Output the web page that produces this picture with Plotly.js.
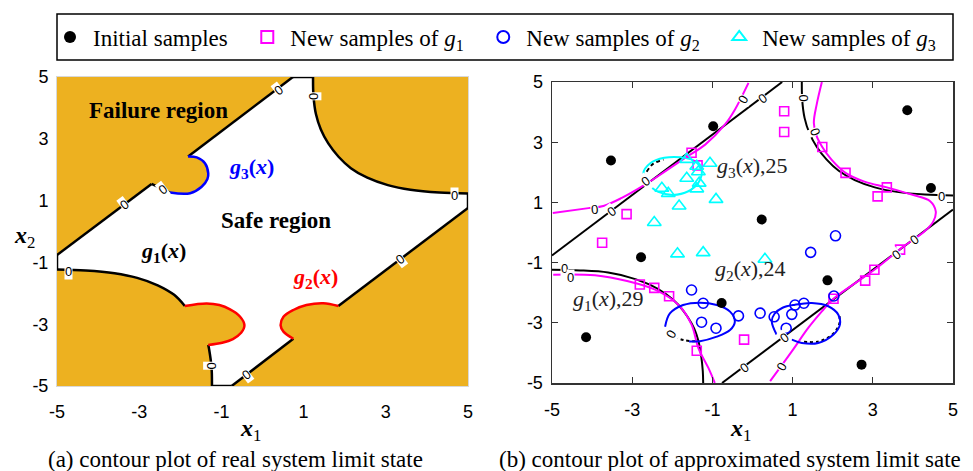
<!DOCTYPE html>
<html><head><meta charset="utf-8">
<script src="https://cdn.plot.ly/plotly-3.0.1.min.js"></script>
<style>html,body{margin:0;padding:0;background:#fff}#chart{width:973px;height:471px}</style>
</head><body><div id="chart"></div>
<script>
// ===== (a) real system limit state: boundary pieces =====
const ulLowX = [-5, -2.70], ulLowY = [-0.76, 1.54];
const notchX = [-2.70, -2.58, -2.25], notchY = [1.54, 1.47, 1.26];
const g3ArcX = [-2.25, -1.76, -1.48, -1.34, -1.32, -1.40, -1.60, -1.81];
const g3ArcY = [1.26, 1.24, 1.45, 1.70, 1.88, 2.21, 2.40, 2.43];
const ulHighX = [-1.81, 0.74], ulHighY = [2.43, 5];
const topEdgeX = [0.74, 1.23], topEdgeY = [5, 5];
const trX = [1.23, 1.24, 1.30, 1.42, 1.60, 1.85, 2.15, 2.55, 3.05, 3.6, 4.3, 5];
const trY = [5, 4.4, 3.8, 3.3, 2.85, 2.42, 2.05, 1.74, 1.50, 1.35, 1.26, 1.23];
const rightEdgeX = [5, 5], rightEdgeY = [1.23, 0.76];
const brHighX = [5, 1.845], brHighY = [0.76, -2.41];
const g2RX = [1.845, 1.48, 1.07, 0.75, 0.51, 0.44, 0.51, 0.75];
const g2RY = [-2.41, -2.32, -2.38, -2.54, -2.76, -3.03, -3.24, -3.47];
const brLowX = [0.75, -0.75], brLowY = [-3.47, -5];
const botEdgeX = [-0.75, -1.23], botEdgeY = [-5, -5];
const blLowX = [-1.23, -1.24, -1.30, -1.32], blLowY = [-5, -4.4, -3.8, -3.67];
const g2LX = [-1.32, -0.98, -0.72, -0.52, -0.44, -0.55, -0.79, -1.05, -1.36, -1.89];
const g2LY = [-3.67, -3.60, -3.48, -3.28, -3.03, -2.75, -2.52, -2.38, -2.33, -2.41];
const blHighX = [-1.89, -2.15, -2.55, -3.05, -3.6, -4.3, -5];
const blHighY = [-2.41, -2.05, -1.74, -1.50, -1.35, -1.26, -1.23];
const leftEdgeX = [-5, -5], leftEdgeY = [-1.23, -0.76];
// contour "0" labels of (a): x, y, angle
const labAX = [0.38, 1.23, 4.68, 3.35, -0.38, -1.26, -4.72, -3.35, -2.43];
const labAY = [4.57, 4.39, 1.18, -0.92, -4.64, -4.35, -1.28, 0.86, 1.37];
const labAAng = [-37, 90, 0, -37, -37, 90, 0, -37, -37];

// ===== (b) approximated limit state =====
const initX = [-3.53, -0.98, 3.86, 4.45, 0.23, -2.78, -0.77, -4.15, 1.87, 2.72];
const initY = [2.39, 3.53, 4.06, 1.48, 0.43, -0.82, -2.34, -3.48, -1.59, -4.39];
const g1SX = [-1.52, -1.37, -3.14, -3.75, -2.81, -2.45, -2.08, -1.39, -0.21, 0.79, 0.79, 1.74, 2.32, 3.35, 3.12, 2.02, 2.81, 3.04, 3.68];
const g1SY = [2.65, 2.23, 0.61, -0.34, -1.73, -1.84, -2.12, -3.93, -3.56, 4.03, 3.34, 2.84, 1.98, 1.50, 1.20, -2.20, -1.60, -1.24, -0.57];
const g2SX = [2.07, 1.45, -1.52, -1.23, -1.27, -0.91, -0.35, 0.19, 0.54, 0.84, 0.98, 1.06, 1.28, 2.03];
const g2SY = [-0.11, -0.66, -1.91, -2.35, -2.98, -3.18, -2.77, -2.68, -2.80, -3.18, -2.72, -2.41, -2.35, -2.11];
const g3SX = [-1.64, -1.06, -1.64, -1.35, -1.39, -1.33, -1.39, -2.26, -2.10, -1.83, -0.91, -2.45, -1.87, -1.23, 0.31];
const g3SY = [2.43, 2.30, 1.80, 2.02, 2.20, 1.64, 1.45, 1.47, 1.30, 0.88, 1.10, 0.33, -0.71, -0.67, -0.89];
// true contour (black) in (b)
const bULX = [-5, 0.74], bULY = [-0.76, 5];
const bBRX = [5, -0.76], bBRY = [0.76, -5];
const bBLX = [-5, -4.3, -3.6, -3.05, -2.55, -2.15, -1.85, -1.62, -1.45, -1.35, -1.28, -1.24, -1.23];
const bBLY = [-1.24, -1.26, -1.33, -1.50, -1.74, -2.05, -2.40, -2.80, -3.2, -3.6, -4.1, -4.6, -5];
const bG3X = [-2.64, -2.48, -2.22], bG3Y = [2.02, 2.28, 2.42];
const bG2LX = [-2.15, -1.95, -1.70, -1.35], bG2LY = [-3.20, -3.45, -3.58, -3.62];
const bG2RX = [2.17, 2.16, 2.00, 1.65, 1.20], bG2RY = [-2.78, -3.05, -3.38, -3.62, -3.62];
// approximated g1 (magenta)
const mULX = [-4.98, -4.09, -3.72, -3.26, -2.68, -2.18, -1.68, -1.18, -0.69, -0.44, -0.10];
const mULY = [0.65, 0.81, 0.88, 1.15, 1.59, 2.03, 2.48, 2.92, 3.58, 4.08, 4.97];
const mRX = [1.73, 1.60, 1.53, 1.60, 1.74, 1.97, 2.32, 2.81, 3.35, 3.97, 4.43, 4.57, 4.51, 4.30, 3.72, 3.04, 2.02, 1.73, 1.39, 0.98, 0.44];
const mRY = [5.0, 4.25, 3.64, 3.20, 2.84, 2.42, 1.98, 1.68, 1.50, 1.26, 1.04, 0.70, 0.37, 0.05, -0.51, -1.24, -2.20, -2.62, -3.17, -3.95, -4.94];
const mBLX = [-4.97, -3.93, -3.10, -2.43, -1.85, -1.52, -1.35, -1.10, -0.94];
const mBLY = [-1.40, -1.42, -1.62, -1.90, -2.40, -3.06, -3.84, -4.50, -5.0];
// approximated g2 (blue) and g3 (cyan)
const eLX = [-2.18, -2.06, -1.73, -1.31, -0.89, -0.56, -0.44, -0.56, -0.89, -1.31, -1.58];
const eLY = [-3.13, -2.69, -2.41, -2.33, -2.41, -2.63, -2.96, -3.24, -3.46, -3.61, -3.62];
const eRX = [0.60, 0.48, 0.55, 0.75, 1.06, 1.48, 1.89, 2.14, 2.18, 2.02, 1.64, 1.23, 0.98];
const eRY = [-3.39, -2.95, -2.70, -2.50, -2.40, -2.34, -2.45, -2.73, -3.06, -3.39, -3.67, -3.67, -3.56];
const eCX = [-2.60, -2.72, -2.55, -2.20, -1.80, -1.45, -1.27, -1.35, -1.60, -1.98, -2.35, -2.50];
const eCY = [1.70, 1.97, 2.30, 2.48, 2.50, 2.38, 2.08, 1.65, 1.37, 1.25, 1.35, 1.48];
// contour "0" labels of (b)
const labBX = [-3.51, -3.93, -2.68, -0.23, 0.25, 1.27, 1.56, 4.72, 3.60, 4.05, 0.81, 0.73, -0.19, -2.03, -4.69, -4.55];
const labBY = [0.70, 0.78, 1.70, 4.41, 4.46, 4.47, 3.36, 1.20, -0.74, -0.24, -3.50, -4.45, -4.50, -3.40, -1.18, -1.48];
const labBAng = [-37, -5, -37, -60, -37, 90, 70, 0, -37, -37, -37, -60, -37, -60, 0, 0];

const ticks = [-5, -3, -1, 1, 3, 5];
const tickText = ['-5', '-3', '-1', '1', '3', '5'];

// ---------- helpers ----------
function join(pairs) {
  const x = [], y = [];
  pairs.forEach((p, i) => { if (i) { x.push(null); y.push(null); } x.push(...p[0]); y.push(...p[1]); });
  return {x, y};
}
function chain(pairs) {
  const x = [], y = [];
  pairs.forEach(p => { x.push(...p[0]); y.push(...p[1]); });
  return {x, y};
}

const safe = chain([[ulLowX, ulLowY], [notchX, notchY], [g3ArcX, g3ArcY], [ulHighX, ulHighY], [topEdgeX, topEdgeY],
  [trX, trY], [rightEdgeX, rightEdgeY], [brHighX, brHighY], [g2RX, g2RY], [brLowX, brLowY], [botEdgeX, botEdgeY],
  [blLowX, blLowY], [g2LX, g2LY], [blHighX, blHighY], [leftEdgeX, leftEdgeY]]);
const blackA = join([[ulLowX, ulLowY], [notchX, notchY], [ulHighX, ulHighY], [topEdgeX, topEdgeY], [trX, trY],
  [rightEdgeX, rightEdgeY], [brHighX, brHighY], [brLowX, brLowY], [botEdgeX, botEdgeY], [blLowX, blLowY],
  [blHighX, blHighY], [leftEdgeX, leftEdgeY]]);
const redA = join([[g2RX, g2RY], [g2LX, g2LY]]);

const blackB = join([[bULX, bULY], [bBRX, bBRY], [trX, trY], [bBLX, bBLY]]);
const dotB = join([[bG2LX, bG2LY], [bG2RX, bG2RY]]);
const magB = join([[mULX, mULY], [mRX, mRY], [mBLX, mBLY]]);
const blueB = join([[eLX, eLY], [eRX, eRY]]);

const L = {mode: 'lines', hoverinfo: 'skip', showlegend: false};
const traces = [
  Object.assign({}, L, {x: safe.x, y: safe.y, fill: 'toself', fillcolor: '#ffffff', line: {width: 0}, xaxis: 'x', yaxis: 'y'}),
  Object.assign({}, L, {x: blackA.x, y: blackA.y, line: {color: '#000', width: 2.5, shape: 'spline'}, xaxis: 'x', yaxis: 'y'}),
  Object.assign({}, L, {x: redA.x, y: redA.y, line: {color: '#ff0000', width: 2.5, shape: 'spline'}, xaxis: 'x', yaxis: 'y'}),
  Object.assign({}, L, {x: g3ArcX, y: g3ArcY, line: {color: '#0000ff', width: 2.5, shape: 'spline'}, xaxis: 'x', yaxis: 'y'}),
  Object.assign({}, L, {x: blackB.x, y: blackB.y, line: {color: '#000', width: 2, shape: 'spline'}, xaxis: 'x2', yaxis: 'y2'}),
  Object.assign({}, L, {x: bG3X, y: bG3Y, line: {color: '#000', width: 2, dash: '4px,3px', shape: 'spline'}, xaxis: 'x2', yaxis: 'y2'}),
  Object.assign({}, L, {x: dotB.x, y: dotB.y, line: {color: '#000', width: 2, dash: 'dot', shape: 'spline'}, xaxis: 'x2', yaxis: 'y2'}),
  Object.assign({}, L, {x: magB.x, y: magB.y, line: {color: '#ff00ff', width: 2, shape: 'spline'}, xaxis: 'x2', yaxis: 'y2'}),
  Object.assign({}, L, {x: blueB.x, y: blueB.y, line: {color: '#0000ff', width: 2, shape: 'spline'}, xaxis: 'x2', yaxis: 'y2'}),
  Object.assign({}, L, {x: eCX, y: eCY, line: {color: '#00ffff', width: 2, shape: 'spline'}, xaxis: 'x2', yaxis: 'y2'}),
  {x: initX, y: initY, mode: 'markers', name: 'Initial samples\u00a0\u00a0', xaxis: 'x2', yaxis: 'y2', hoverinfo: 'skip',
   marker: {symbol: 'circle', size: 10, color: '#000'}},
  {x: g1SX, y: g1SY, mode: 'markers', name: 'New samples of <i>g</i><sub>1</sub>\u00a0\u00a0', xaxis: 'x2', yaxis: 'y2', hoverinfo: 'skip',
   marker: {symbol: 'square-open', size: 9, color: '#ff00ff', line: {width: 1.6}}},
  {x: g2SX, y: g2SY, mode: 'markers', name: 'New samples of <i>g</i><sub>2</sub>\u00a0\u00a0', xaxis: 'x2', yaxis: 'y2', hoverinfo: 'skip',
   marker: {symbol: 'circle-open', size: 10, color: '#0000ff', line: {width: 1.6}}},
  {x: g3SX, y: g3SY, mode: 'markers', name: 'New samples of <i>g</i><sub>3</sub>', xaxis: 'x2', yaxis: 'y2', hoverinfo: 'skip',
   marker: {symbol: 'triangle-up-open', size: 12, color: '#00ffff', line: {width: 1.6}}}
];

const serif = 'Liberation Serif, Times New Roman, serif';
const sans = 'Liberation Sans, Arial, sans-serif';
const ann = [];
function lab(xr, yr, x, y, a) {
  ann.push({xref: xr, yref: yr, x: x, y: y, text: '0', showarrow: false, textangle: a, xanchor: 'center', yanchor: 'middle',
    font: {family: sans, size: 13, color: '#000'}, bgcolor: '#ffffff', borderpad: 0});
}
labAX.forEach((v, i) => lab('x', 'y', v, labAY[i], labAAng[i]));
labBX.forEach((v, i) => lab('x2', 'y2', v, labBY[i], labBAng[i]));
function txt(xr, yr, x, y, t, f, extra) {
  ann.push(Object.assign({xref: xr, yref: yr, x: x, y: y, text: t, showarrow: false, font: f, xanchor: 'center', yanchor: 'middle'}, extra || {}));
}
const bold = {family: serif, size: 23, color: '#000'};
txt('x', 'y', -2.54, 3.93, '<b>Failure region</b>', bold);
txt('x', 'y', 0.33, 0.37, '<b>Safe region</b>', bold);
txt('x', 'y', -0.26, 2.05, '<b><i>g</i><sub>3</sub>(<i>x</i>)</b>', {family: serif, size: 22, color: '#0000ff'});
txt('x', 'y', -2.42, -0.66, '<b><i>g</i><sub>1</sub>(<i>x</i>)</b>', {family: serif, size: 22, color: '#000'});
txt('x', 'y', 1.28, -1.51, '<b><i>g</i><sub>2</sub>(<i>x</i>)</b>', {family: serif, size: 22, color: '#ff0000'});
const it22 = {family: serif, size: 22, color: '#222'};
txt('x2', 'y2', 0.01, 2.18, '<i>g</i><sub>3</sub>(<i>x</i>),25', it22);
txt('x2', 'y2', -0.06, -1.25, '<i>g</i><sub>2</sub>(<i>x</i>),24', it22);
txt('x2', 'y2', -3.6, -2.24, '<i>g</i><sub>1</sub>(<i>x</i>),29', it22);
const axT = {family: serif, size: 24, color: '#000'};
txt('paper', 'paper', 250 / 973, 1 - 430 / 471, '<b><i>x</i></b><sub>1</sub>', axT);
txt('paper', 'paper', 740 / 973, 1 - 430 / 471, '<b><i>x</i></b><sub>1</sub>', axT);
txt('paper', 'paper', 24 / 973, 1 - 237 / 471, '<b><i>x</i></b><sub>2</sub>', axT);
const capF = {family: serif, size: 23, color: '#000'};
txt('paper', 'paper', 235 / 973, 1 - 459 / 471, '(a) contour plot of real system limit state', capF);
txt('paper', 'paper', 497 / 973, 1 - 459 / 471, '(b) contour plot of approximated system limit sate', capF, {xanchor: 'left'});

const tf = {family: sans, size: 18, color: '#000'};
const layout = {
  width: 973, height: 471, margin: {l: 0, r: 0, t: 0, b: 0},
  paper_bgcolor: '#fff', plot_bgcolor: 'rgba(0,0,0,0)', showlegend: true,
  xaxis: {domain: [57 / 973, 468 / 973], range: [-5, 5], tickvals: ticks, ticktext: tickText, showgrid: false, zeroline: false,
          ticks: '', showline: true, linecolor: '#d8d8d8', linewidth: 1, mirror: true, tickfont: tf, ticklabelstandoff: 9, anchor: 'y'},
  yaxis: {domain: [1 - 386 / 471, 1 - 77 / 471], range: [-5, 5], tickvals: ticks, ticktext: tickText, showgrid: false, zeroline: false,
          ticks: '', showline: true, linecolor: '#d8d8d8', linewidth: 1, mirror: true, tickfont: tf, ticklabelstandoff: 4, anchor: 'x'},
  xaxis2: {domain: [552 / 973, 953 / 973], range: [-5, 5], tickvals: ticks, ticktext: tickText, showgrid: false, zeroline: false,
          ticks: 'inside', ticklen: 6, tickcolor: '#333', showline: true, linecolor: '#333', linewidth: 1.5, mirror: 'ticks', tickfont: tf, ticklabelstandoff: 10, anchor: 'y2'},
  yaxis2: {domain: [1 - 383 / 471, 1 - 82 / 471], range: [-5, 5], tickvals: ticks, ticktext: tickText, showgrid: false, zeroline: false,
          ticks: 'inside', ticklen: 6, tickcolor: '#333', showline: true, linecolor: '#333', linewidth: 1.5, mirror: 'ticks', tickfont: tf, ticklabelstandoff: 4, anchor: 'x2'},
  legend: {orientation: 'h', x: 47 / 973, xanchor: 'left', y: 1 - 37 / 471, yanchor: 'middle', bgcolor: 'rgba(0,0,0,0)', borderwidth: 0,
           font: {family: serif, size: 23, color: '#000'}, itemwidth: 36, itemsizing: 'constant'},
  shapes: [
    {type: 'rect', xref: 'x', yref: 'y', x0: -5, x1: 5, y0: -5, y1: 5, fillcolor: '#EDB120', line: {width: 0}, layer: 'below'},
    {type: 'rect', xref: 'paper', yref: 'paper', x0: 57 / 973, x1: 953 / 973, y0: 1 - 60 / 471, y1: 1 - 14 / 471, line: {color: '#000', width: 1.5}, fillcolor: 'rgba(0,0,0,0)'}
  ],
  annotations: ann
};
Plotly.newPlot('chart', traces, layout, {staticPlot: true, displayModeBar: false});
</script></body></html>
